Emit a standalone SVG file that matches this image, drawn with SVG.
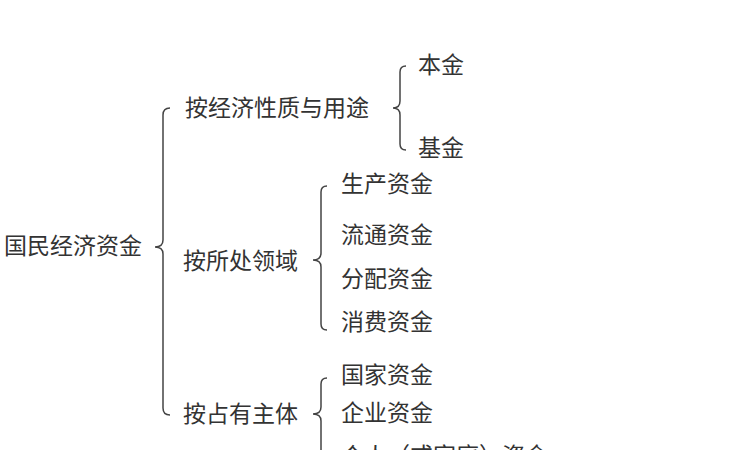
<svg xmlns="http://www.w3.org/2000/svg" width="731" height="450" viewBox="0 0 731 450">
<style>
text{font-family:"Noto Sans CJK SC","Noto Sans CJK JP",sans-serif;font-size:23px;fill:#333}
.b{fill:none;stroke:#444;stroke-width:1.5}
</style>
<rect width="731" height="450" fill="#fff"/>
<g id="connectors">
<path class="b" d="M170,108 Q163,108 163,115 L163,240 Q163,247 155,247 Q163,247 163,254 L163,408 Q163,415 170,415"/>
<path class="b" d="M406,66 Q400,66 400,72 L400,101 Q400,108 393,108 Q400,108 400,115 L400,144 Q400,150 406,150"/>
<path class="b" d="M327,186 Q321,186 321,192 L321,253 Q321,260 313,260 Q321,260 321,267 L321,324 Q321,330 327,330"/>
<path class="b" d="M327,378 Q321,378 321,384 L321,407 Q321,414 313,414 Q321,414 321,421 L321,460"/>
</g>
<g id="root"><text x="4" y="254">国民经济资金</text></g>
<g id="n1"><text x="185" y="116">按经济性质与用途</text></g>
<g id="n2"><text x="183" y="269">按所处领域</text></g>
<g id="n3"><text x="183" y="422">按占有主体</text></g>
<g id="l1"><text x="418" y="73">本金</text></g>
<g id="l2"><text x="418" y="156">基金</text></g>
<g id="l3"><text x="341" y="192">生产资金</text></g>
<g id="l4"><text x="341" y="243">流通资金</text></g>
<g id="l5"><text x="341" y="287">分配资金</text></g>
<g id="l6"><text x="341" y="330">消费资金</text></g>
<g id="l7"><text x="341" y="383">国家资金</text></g>
<g id="l8"><text x="341" y="421">企业资金</text></g>
<g id="l9"><text x="341" y="464">个人（或家庭）资金</text></g>
</svg>
